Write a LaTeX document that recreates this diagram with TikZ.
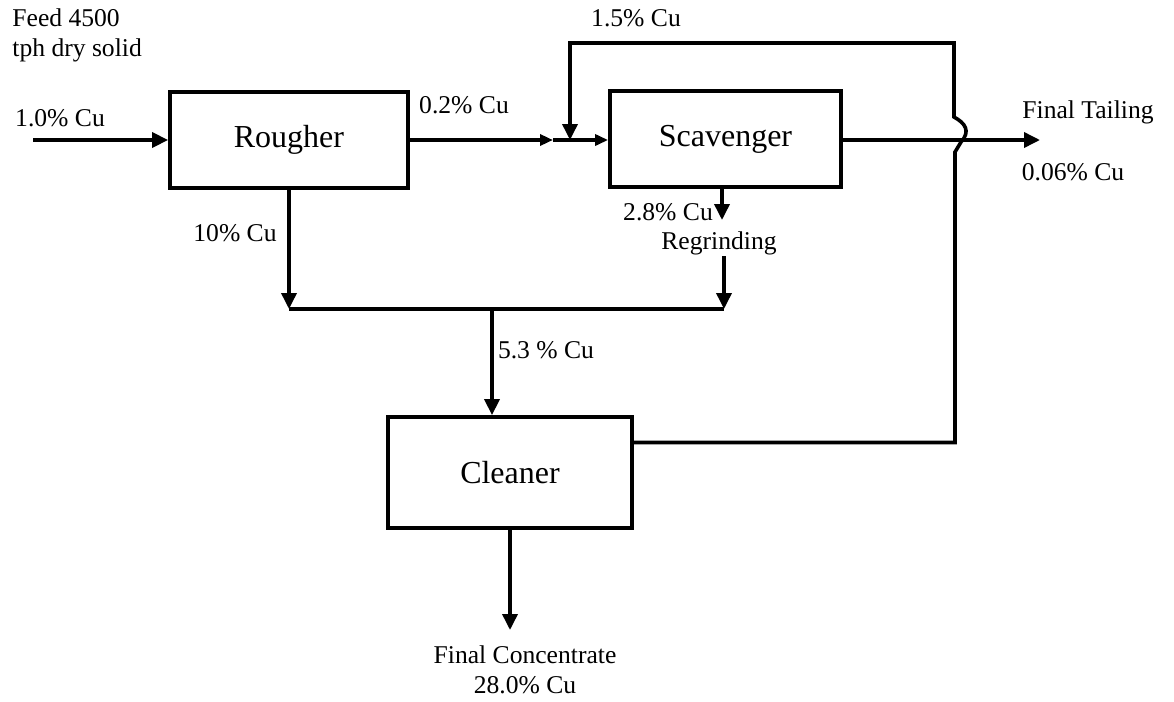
\documentclass[tikz,border=0pt]{standalone}
\usepackage{fontspec}
\setmainfont{Liberation Serif}
\usetikzlibrary{arrows.meta,positioning,calc}

\begin{document}
\begin{tikzpicture}[
    x=0.5pt, y=-0.5pt,
    unit/.style={rectangle, draw, line width=1.9pt, inner sep=0pt, font=\fontsize{16}{18}\selectfont},
    lbl/.style={inner sep=1pt, font=\fontsize{12.8}{15}\selectfont, align=center},
    flow/.style={line width=1.8pt, -{Triangle[length=8pt,width=7.5pt]}},
    small/.style={line width=1.8pt, -{Triangle[length=6.5pt,width=5.5pt]}},
    pipe/.style={line width=1.8pt}
]
\useasboundingbox (0,0) rectangle (1174,702);

% units
\node[unit, minimum width=119pt, minimum height=48pt] (rougher) at (289,140) {Rougher};
\node[unit, minimum width=115.5pt, minimum height=48pt] (scav) at (725.5,139) {Scavenger};
\node[unit, minimum width=122pt, minimum height=55.5pt] (cleaner) at (510,472.5) {Cleaner};

% labels
\node[lbl, align=left, anchor=north west] (feed) at (10,6) {Feed 4500\\tph dry solid};
\node[lbl] (cu10) at (60,118) {1.0\% Cu};
\node[lbl] (cu02) at (464,105) {0.2\% Cu};
\node[lbl] (cu15) at (636,18) {1.5\% Cu};
\node[lbl] (tail) at (1088,112) {Final Tailing};
\node[lbl] (cu006) at (1073,172) {0.06\% Cu};
\node[lbl] (cu100) at (235,233) {10\% Cu};
\node[lbl] (cu28) at (668,212) {2.8\% Cu};
\node[lbl] (regrind) at (719,243) {Regrinding};
\node[lbl] (cu53) at (546,350) {5.3 \% Cu};
\node[lbl] (conc) at (525,670) {Final Concentrate\\28.0\% Cu};

% junctions
\coordinate (feedin) at (33,140);
\coordinate (j1) at (553,140);
\coordinate (j2) at (570,140);
\coordinate (tailout) at (1040,140);
\coordinate (r1) at (289,309);
\coordinate (r2) at (724,309);
\coordinate (m) at (492,309);
\coordinate (hopb) at (955,152);
\coordinate (hopt) at (954,117);
\coordinate (top) at (954,43);

% flows
\draw[flow] (feedin) -- (rougher.west);
\draw[small] (rougher.east) -- (j1);
\draw[small] (j1) -- (rougher.east -| scav.west);
\draw[flow] (rougher.east -| scav.east) -- (tailout);
\draw[flow] (rougher.south) -- (r1);
\draw[flow] (scav.south -| 722,0) -- (722,220);
\draw[flow] (724,256) -- (r2);
\draw[pipe] (r1) -- (r2);
\draw[flow] (m) -- (m |- cleaner.north);
\draw[flow] (cleaner.south) -- (510,630);
% recycle with hop over the tailing line
\draw[flow] ([yshift=15pt]cleaner.east) -| (hopb)
    -- (961,142) .. controls (971,131) and (965,123) .. (hopt)
    -- (top) -| (j2);
\end{tikzpicture}
\end{document}
